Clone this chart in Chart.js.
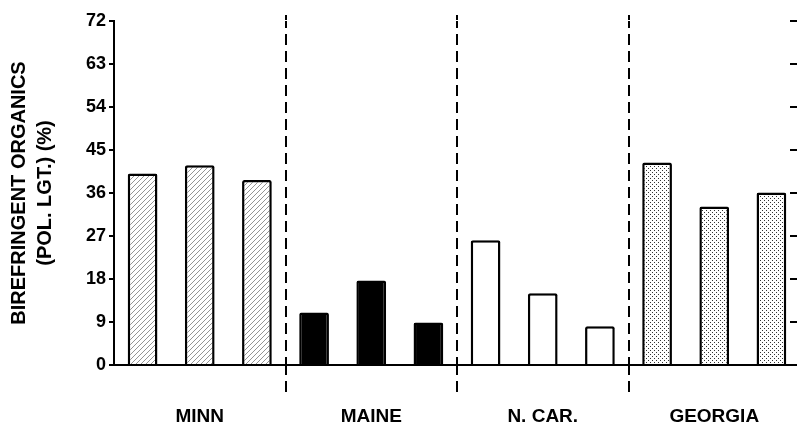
<!DOCTYPE html>
<html>
<head>
<meta charset="utf-8">
<script src="https://cdn.jsdelivr.net/npm/chart.js@4"></script>
<style>
  html, body { margin: 0; padding: 0; background: #fff; overflow: hidden; }
  #wrap { width: 800px; height: 430px; position: relative; }
</style>
</head>
<body>
<div id="wrap"><canvas id="c"></canvas></div>
<script>
// Sites and the three samples measured at each
const sites = ['MINN', 'MAINE', 'N. CAR.', 'GEORGIA'];
const sample1 = [40.1, 11.0, 26.1, 42.4];
const sample2 = [41.8, 17.7, 15.0, 33.2];
const sample3 = [38.7, 8.9, 8.1, 36.1];
const yTicks = [0, 9, 18, 27, 36, 45, 54, 63, 72];
const yTitle = ['BIREFRINGENT ORGANICS', '(POL. LGT.) (%)'];

const FONT = "'Liberation Sans', Arial, sans-serif";

function tile(size, draw) {
  const c = document.createElement('canvas');
  c.width = c.height = size;
  const g = c.getContext('2d');
  g.fillStyle = '#fff';
  g.fillRect(0, 0, size, size);
  draw(g, size);
  return g.createPattern(c, 'repeat');
}

// diagonal hatching
const hatch = tile(5, (g, s) => {
  g.strokeStyle = '#666';
  g.lineWidth = 0.7;
  g.beginPath();
  g.moveTo(0, s); g.lineTo(s, 0);
  g.moveTo(-s, s); g.lineTo(s, -s);
  g.moveTo(0, 2 * s); g.lineTo(2 * s, 0);
  g.stroke();
});

// fine stipple
const stipple = tile(4, (g) => {
  g.fillStyle = '#333';
  g.fillRect(0, 0, 1, 1);
  g.fillRect(2, 2, 1, 1);
});

const fills = [hatch, '#000', '#fff', stipple];

function bars(data) {
  return {
    data,
    backgroundColor: fills,
    borderColor: '#000',
    borderWidth: 2.5,
    borderRadius: 2,
    borderSkipped: 'start',
    categoryPercentage: 1.0,
    barPercentage: 0.52
  };
}

// short inward ticks along the right edge of the plot,
// and the top ends of the dashed site dividers
const extras = {
  id: 'extras',
  afterDraw(chart) {
    const { ctx, chartArea, scales } = chart;
    ctx.save();
    ctx.strokeStyle = '#000';
    ctx.lineWidth = 2;
    yTicks.forEach(v => {
      if (v === 0) return;
      const y = scales.y.getPixelForValue(v);
      ctx.beginPath();
      ctx.moveTo(chartArea.right - 10, y);
      ctx.lineTo(chartArea.right, y);
      ctx.stroke();
    });
    const step = (scales.x.getPixelForValue(1) - scales.x.getPixelForValue(0));
    for (let i = 1; i < sites.length; i++) {
      const x = Math.round(scales.x.getPixelForValue(i) - step / 2);
      ctx.beginPath();
      ctx.moveTo(x, chartArea.top - 6);
      ctx.lineTo(x, chartArea.top - 1);
      ctx.stroke();
    }
    ctx.restore();
  }
};

new Chart(document.getElementById('c'), {
  type: 'bar',
  data: {
    labels: sites,
    datasets: [bars(sample1), bars(sample2), bars(sample3)]
  },
  options: {
    responsive: true,
    maintainAspectRatio: false,
    animation: false,
    layout: { padding: { top: 21, right: 0, bottom: 0, left: 0 } },
    plugins: { legend: { display: false }, tooltip: { enabled: false } },
    scales: {
      x: {
        offset: true,
        grid: {
          offset: true,
          drawOnChartArea: true,
          color: (ctx) => ctx.index === 0 ? 'rgba(0,0,0,0)' : '#000',
          tickColor: (ctx) => ctx.index === 0 ? 'rgba(0,0,0,0)' : '#000',
          lineWidth: 2,
          tickBorderDash: [11, 6],
          tickBorderDashOffset: 2,
          tickLength: 33
        },
        border: { display: true, color: '#000', width: 2, dash: [11, 6], dashOffset: 4 },
        ticks: {
          color: '#000',
          padding: 7,
          font: { family: FONT, size: 19, weight: 'bold' }
        },
        afterFit(scale) { scale.height = 65; }
      },
      y: {
        min: 0,
        max: 72,
        afterBuildTicks(scale) { scale.ticks = yTicks.map(v => ({ value: v })); },
        grid: {
          drawOnChartArea: false,
          color: '#000',
          lineWidth: 2,
          tickLength: 5
        },
        border: { display: true, color: '#000', width: 2 },
        ticks: {
          color: '#000',
          padding: 3,
          font: { family: FONT, size: 18, weight: 'bold' }
        },
        title: {
          display: true,
          text: yTitle,
          color: '#000',
          padding: { top: 6, bottom: 0 },
          font: { family: FONT, size: 20, weight: 'bold', lineHeight: 1.3 }
        },
        afterFit(scale) { scale.width = 114; }
      }
    }
  },
  plugins: [extras]
});
</script>
</body>
</html>
